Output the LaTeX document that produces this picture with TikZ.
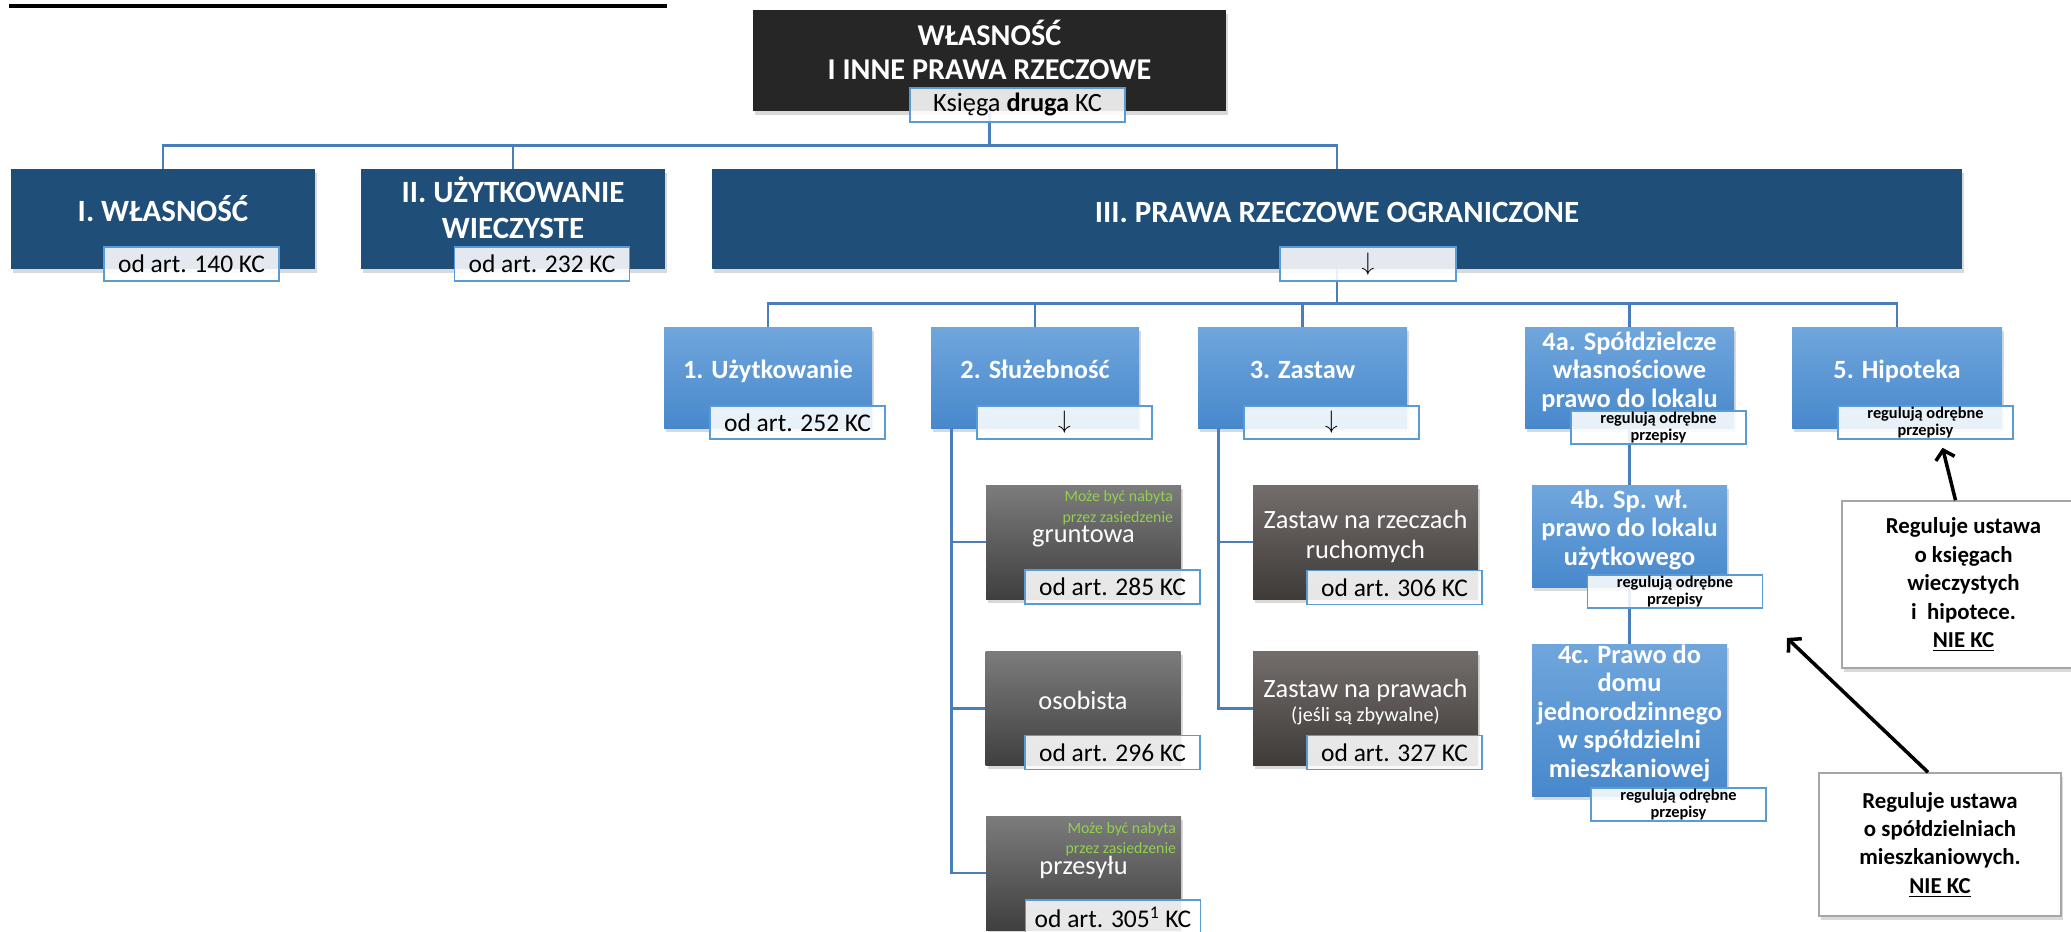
\documentclass[tikz,border=0pt]{standalone}
\usepackage{fontspec}
\setmainfont{Carlito}
\usetikzlibrary{arrows.meta,shadows}

\newlength\pu
\setlength\pu{0.02cm}

\definecolor{rootgray}{HTML}{262626}
\definecolor{deepblue}{HTML}{1F4E79}
\definecolor{lightblue}{HTML}{70A6DC}
\definecolor{midblue}{HTML}{4788CC}
\definecolor{linkblue}{HTML}{4A7EBB}
\definecolor{lblborder}{HTML}{5B9BD5}
\definecolor{graytop}{HTML}{7C7C7C}
\definecolor{graybot}{HTML}{3F3F3F}
\definecolor{browntop}{HTML}{736D6B}
\definecolor{brownbot}{HTML}{3F3B39}
\definecolor{notegreen}{HTML}{92D050}
\definecolor{noteborder}{HTML}{A6A6A6}

\begin{document}
\begin{tikzpicture}[x=\pu, y=-\pu,
    dims/.style 2 args={minimum width=#1\pu, minimum height=#2\pu, inner sep=0pt},
    castshadow/.style={drop shadow={shadow xshift=1.2pt, shadow yshift=-2.2pt, opacity=.3}},
    topbox/.style={dims={473}{101}, fill=rootgray, text=white, align=center, castshadow,
      text depth=21\pu, font=\bfseries\fontsize{17.2}{19.4}\selectfont},
    mainbox/.style={dims={304}{100}, fill=deepblue, text=white, align=center, castshadow,
      text depth=20\pu, font=\bfseries\fontsize{17.6}{20.5}\selectfont},
    subbox/.style={dims={208}{101}, top color=lightblue, bottom color=midblue, text=white,
      align=center, castshadow, text depth=16\pu, font=\bfseries\fontsize{15}{16.2}\selectfont},
    darkbox/.style={dims={195}{114}, top color=graytop, bottom color=graybot, text=white,
      align=center, castshadow, text depth=16\pu, font=\fontsize{15}{17}\selectfont},
    pledgebox/.style={darkbox, dims={225}{114}, top color=browntop, bottom color=brownbot},
    artlbl/.style={dims={175}{34}, draw=lblborder, line width=1.5\pu, fill=white,
      fill opacity=.88, text opacity=1, font=\fontsize{14.5}{16}\selectfont},
    rulelbl/.style={artlbl, dims={175}{33}, align=center, font=\bfseries\fontsize{9.3}{9.7}\selectfont},
    greennote/.style={inner sep=0pt, align=right, text=notegreen, font=\fontsize{9}{11.4}\selectfont},
    lawbox/.style={draw=noteborder, line width=1.5\pu, fill=white, align=center, castshadow,
      font=\bfseries\fontsize{13}{16.2}\selectfont},
    link/.style={draw=linkblue, line width=2.5\pu},
    pointer/.style={line width=2pt, -{Straight Barb[length=5pt, width=11pt]}}
  ]
  \useasboundingbox (0,0) rectangle (2071,931);
  \clip (0,0) rectangle (2071,931);

  %%%%% HEADING AND TOP LEVEL %%%%%
  \draw[line width=4\pu] (9,6) -- (667,6);

  \node[topbox] (root) at (989.5,60.5) {WŁASNOŚĆ\\I INNE PRAWA RZECZOWE};

  \node[mainbox] (wlas) at (163,219) {I. WŁASNOŚĆ};
  \node[mainbox, text depth=22\pu] (uw) at (513,219) {II. UŻYTKOWANIE\\WIECZYSTE};
  \node[mainbox, dims={1250}{100}, text depth=14\pu] (prz) at (1337,219) {III. PRAWA RZECZOWE OGRANICZONE};

  %%%%% LIMITED RIGHTS %%%%%
  \node[subbox] (uzyt) at (768,377.5) {1. Użytkowanie};
  \node[subbox] (sluz) at (1035,377.5) {2. Służebność};
  \node[subbox, dims={209}{101}] (zast) at (1302.5,377.5) {3. Zastaw};
  \node[subbox, dims={209}{101}] (spwl) at (1629.5,377.5) {4a. Spółdzielcze\\własnościowe\\prawo do lokalu};
  \node[subbox, dims={210}{101}] (hip) at (1897,377.5) {5. Hipoteka};

  \node[subbox, dims={195}{102}, text depth=17\pu] (spuz) at (1629.5,536) {4b. Sp. wł.\\prawo do lokalu\\użytkowego};
  \node[subbox, dims={195}{152}, text depth=18\pu] (spdom) at (1629.5,720) {4c. Prawo do\\domu\\jednorodzinnego\\w spółdzielni\\mieszkaniowej};

  \node[darkbox] (grunt) at (1083.5,542) {gruntowa};
  \node[darkbox] (osob) at (1083,708.5) {osobista};
  \node[darkbox] (przes) at (1083.5,873) {przesyłu};
  \node[pledgebox] (zrzecz) at (1365.5,542) {Zastaw na rzeczach\\ruchomych};
  \node[pledgebox] (zpraw) at (1365.5,708.5) {Zastaw na prawach\\[-3pt]{\fontsize{11.5}{13}\selectfont(jeśli są zbywalne)}};

  %%%%% CONNECTORS %%%%%
  \foreach \kid in {wlas,uw,prz}
    \draw[link] (root.south) -- ++(0,34) -| (\kid.north);
  \foreach \kid in {uzyt,sluz,zast,spwl,hip}
    \draw[link] (prz.south) -- ++(0,34) -| (\kid.north);
  \foreach \kid in {grunt,osob,przes}
    \draw[link] ([xshift=21\pu]sluz.south west) |- (\kid.west);
  \foreach \kid in {zrzecz,zpraw}
    \draw[link] ([xshift=21\pu]zast.south west) |- (\kid.west);
  \draw[link] (spwl.south) -- (spuz.north);
  \draw[link] (spuz.south) -- (spdom.north);

  %%%%% ARTICLE LABELS %%%%%
  \node[artlbl, dims={215}{34}, font=\fontsize{15}{16}\selectfont] (rootlbl) at (1017.5,105) {Księga \textbf{druga} KC};
  \node[artlbl] (wlaslbl) at (191.5,264) {od art. 140 KC};
  \node[artlbl] (uwlbl) at (542,264) {od art. 232 KC};
  \node[artlbl, dims={176}{34}] (przlbl) at (1368,264) {$\downarrow$};
  \node[artlbl, dims={175}{33}] (uzytlbl) at (797.5,422.5) {od art. 252 KC};
  \node[artlbl, dims={175}{33}] (sluzlbl) at (1064.5,422.5) {$\downarrow$};
  \node[artlbl, dims={175}{33}] (zastlbl) at (1331.5,422.5) {$\downarrow$};
  \node[rulelbl] (spwllbl) at (1658.5,427.5) {regulują odrębne\\przepisy};
  \node[rulelbl] (hiplbl) at (1925.5,422.5) {regulują odrębne\\przepisy};
  \node[rulelbl] (spuzlbl) at (1675,591.5) {regulują odrębne\\przepisy};
  \node[rulelbl] (spdomlbl) at (1678.5,804.5) {regulują odrębne\\przepisy};
  \node[artlbl] (gruntlbl) at (1112.5,587) {od art. 285 KC};
  \node[artlbl] (osoblbl) at (1112.5,752.5) {od art. 296 KC};
  \node[artlbl] (przeslbl) at (1113,917) {od art. 305\textsuperscript{1} KC};
  \node[artlbl] (zrzeczlbl) at (1394.5,587.5) {od art. 306 KC};
  \node[artlbl] (zprawlbl) at (1394.5,752.5) {od art. 327 KC};

  \node[greennote, anchor=north east] (gruntnote) at ([xshift=-8\pu, yshift=-6\pu]grunt.north east) {Może być nabyta\\przez zasiedzenie};
  \node[greennote, anchor=north east] (przesnote) at ([xshift=-5\pu, yshift=-6\pu]przes.north east) {Może być nabyta\\przez zasiedzenie};

  %%%%% NOTES %%%%%
  \node[lawbox, dims={243}{167}] (kwlaw) at (1963.5,584.5) {Reguluje ustawa\\o księgach\\wieczystych\\i~ hipotece.\\\underline{NIE KC}};
  \node[lawbox, dims={242}{143}] (spdzlaw) at (1940,844.5) {Reguluje ustawa\\o spółdzielniach\\mieszkaniowych.\\\underline{NIE KC}};
  \coordinate (spdztip) at (1787,638);

  \draw[pointer] ([xshift=-8\pu]kwlaw.north) -- ([xshift=17\pu, yshift=-8\pu]hiplbl.south);
  \draw[pointer] ([xshift=-12\pu]spdzlaw.north) -- (spdztip);
\end{tikzpicture}
\end{document}
